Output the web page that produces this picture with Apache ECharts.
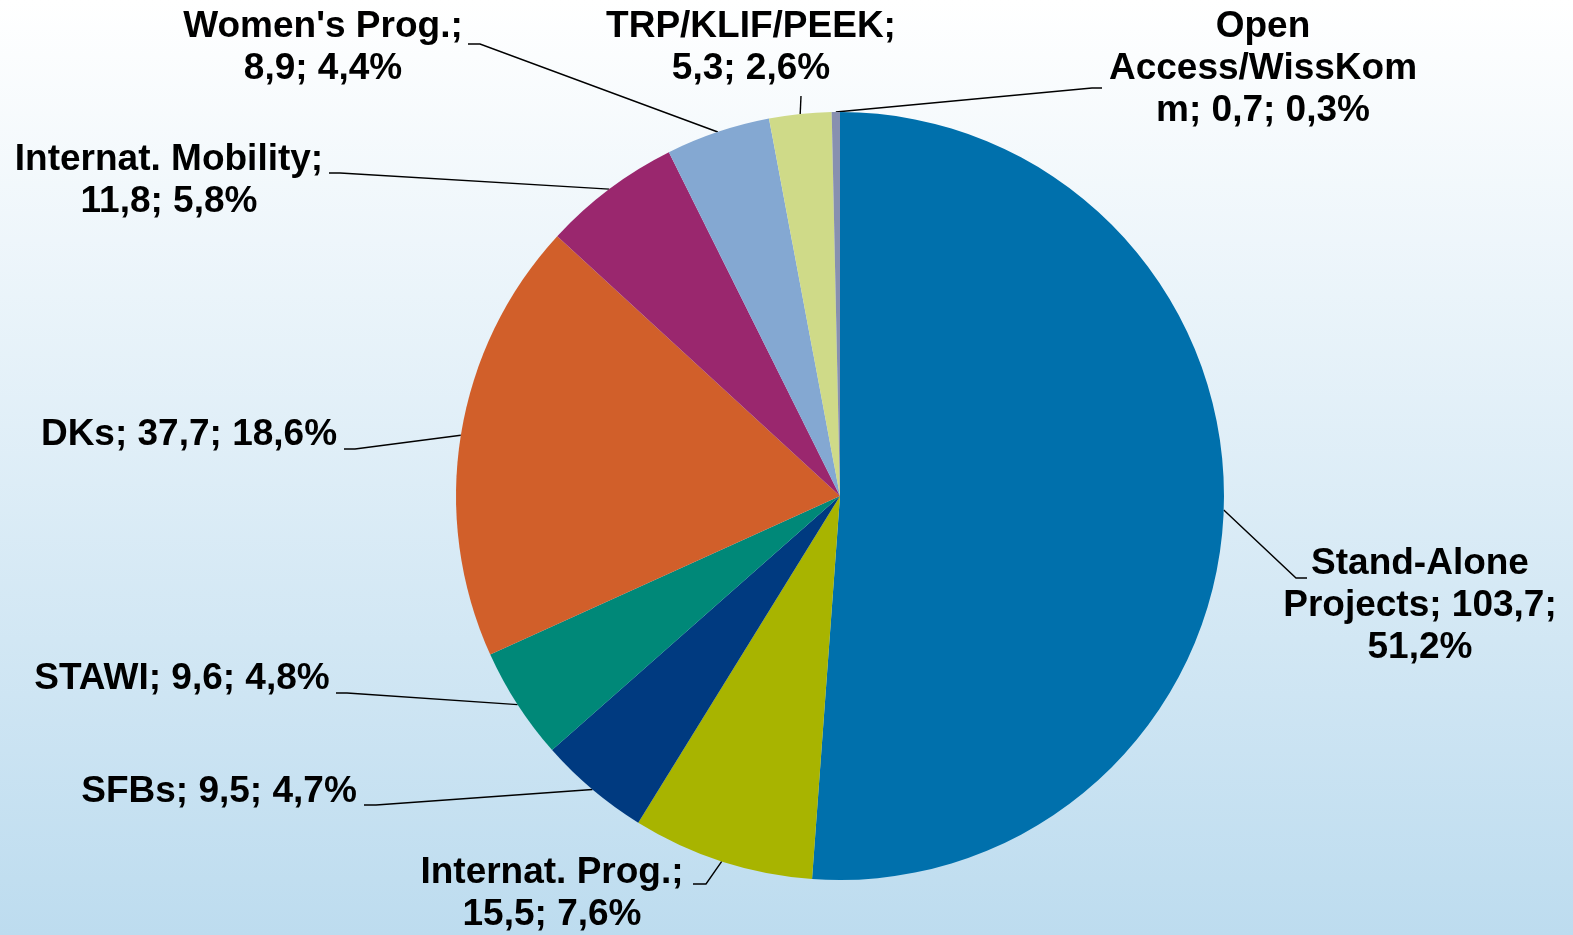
<!DOCTYPE html>
<html>
<head>
<meta charset="utf-8">
<script src="https://cdn.jsdelivr.net/npm/echarts@6/dist/echarts.min.js"></script>
<style>
  html, body { margin: 0; padding: 0; }
  #chart { width: 1573px; height: 935px; }
</style>
</head>
<body>
<div id="chart"></div>
<script>
// funding volume per programme (Mio. EUR) and share, clockwise from 12 o'clock
const categories = ['Stand-Alone Projects', 'Internat. Prog.', 'SFBs', 'STAWI', 'DKs',
  'Internat. Mobility', "Women's Prog.", 'TRP/KLIF/PEEK', 'Open Access/WissKomm']
const values = [103.7, 15.5, 9.5, 9.6, 37.7, 11.8, 8.9, 5.3, 0.7]
const percents = [51.2, 7.6, 4.7, 4.8, 18.6, 5.8, 4.4, 2.6, 0.3]
const colors = ['#0070ac', '#a8b400', '#003a80', '#008878', '#d15f2a',
  '#9a276e', '#84a8d2', '#cfda88', '#8890b0']

// label text as wrapped in the original ({v} value, {p} percent)
const labelText = [
  'Stand-Alone\nProjects; {v};\n{p}',
  'Internat. Prog.;\n{v}; {p}',
  'SFBs; {v}; {p}',
  'STAWI; {v}; {p}',
  'DKs; {v}; {p}',
  'Internat. Mobility;\n{v}; {p}',
  "Women's Prog.;\n{v}; {p}",
  'TRP/KLIF/PEEK;\n{v}; {p}',
  'Open\nAccess/WissKom\nm; {v}; {p}'
]

// where each label block sits (centre x, top y) and where its leader line ends
const labelSpots = [
  { x: 1420, y: 543, bend: [1296, 578], end: [1307, 578] },
  { x: 552, y: 852, bend: [706, 884], end: [693, 884] },
  { x: 219, y: 771, bend: [376, 805], end: [364, 805] },
  { x: 182, y: 658, bend: [347, 693], end: [336, 693] },
  { x: 189, y: 414, bend: [355, 449], end: [344, 449] },
  { x: 169, y: 139, bend: [340, 173], end: [329, 173] },
  { x: 323, y: 6, bend: [480, 44], end: [468, 44] },
  { x: 751, y: 6, bend: [801, 96], end: [801, 96] },
  { x: 1263, y: 6, bend: [1092, 88], end: [1102, 88] }
]

const fmt = n => n.toFixed(1).replace('.', ',')

const chart = echarts.init(document.getElementById('chart'))
chart.setOption({
  backgroundColor: {
    type: 'linear', x: 0, y: 0, x2: 0, y2: 1,
    colorStops: [
      { offset: 0, color: '#ffffff' },
      { offset: 1, color: '#bddcef' }
    ]
  },
  animation: false,
  series: [
    {
      type: 'pie',
      center: [840, 496],
      radius: 384,
      startAngle: 90,
      clockwise: true,
      avoidLabelOverlap: false,
      minShowLabelAngle: 0,
      data: categories.map((name, i) => ({
        name: name,
        value: values[i],
        itemStyle: { color: colors[i] }
      })),
      label: {
        show: true,
        position: 'outer',
        alignTo: 'none',
        color: '#000',
        fontFamily: '"Liberation Sans", Arial, sans-serif',
        fontWeight: 'bold',
        fontSize: 37,
        lineHeight: 42,
        align: 'center',
        formatter: p => labelText[p.dataIndex]
          .replace('{v}', fmt(values[p.dataIndex]))
          .replace('{p}', fmt(percents[p.dataIndex]) + '%')
      },
      labelLine: {
        show: true,
        length: 10,
        length2: 10,
        lineStyle: { color: '#000', width: 1.4 }
      },
      labelLayout: params => {
        const s = labelSpots[params.dataIndex]
        const anchor = params.labelLinePoints ? params.labelLinePoints[0] : s.bend
        return {
          x: s.x,
          y: s.y,
          align: 'center',
          verticalAlign: 'top',
          labelLinePoints: [anchor, s.bend, s.end]
        }
      }
    }
  ]
})
</script>
</body>
</html>
